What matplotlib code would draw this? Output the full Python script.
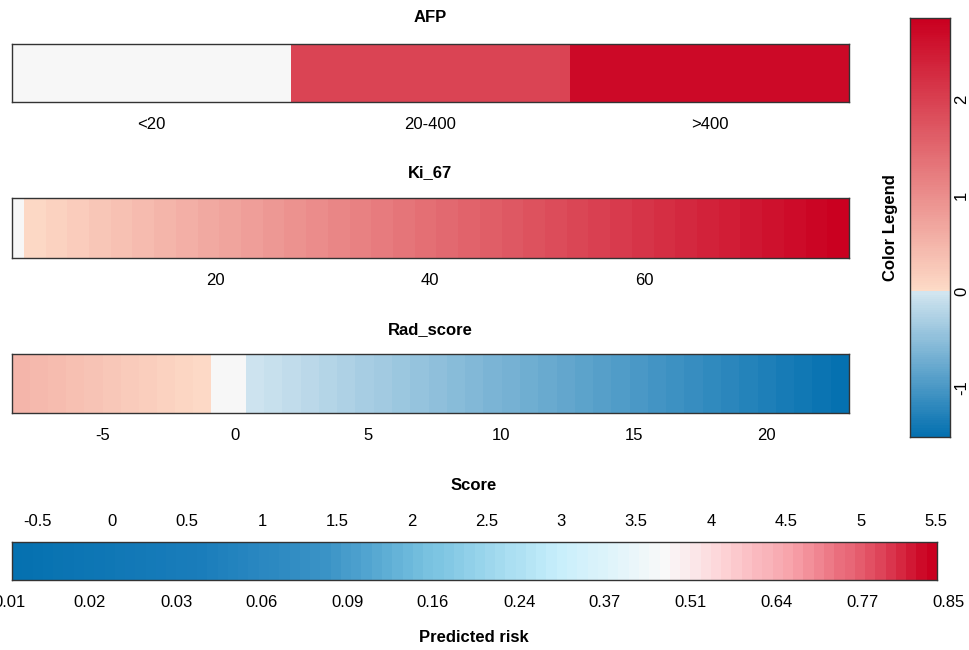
import numpy as np
import matplotlib
matplotlib.use("Agg")
import matplotlib.pyplot as plt
from matplotlib.colors import LinearSegmentedColormap, ListedColormap, Normalize

plt.rcParams['font.family'] = ['Liberation Sans', 'DejaVu Sans']
plt.rcParams['axes.unicode_minus'] = False

# contribution scale shared by the predictor bars
contrib_min, contrib_max = -1.52, 2.85
zero_col = "#F7F7F7"
pos_lo, pos_hi = "#FDDBC7", "#CA0020"
neg_lo, neg_hi = "#D1E5F0", "#0571B0"

# AFP: categorical levels and their contributions
afp_levels = ["<20", "20-400", ">400"]
afp_contrib = [0.0, 1.97, 2.72]

# Ki_67: value range, neutral band, stepped contribution range
ki_range = [1.1, 79.0]
ki_zero = [1.1, 2.2]
ki_contrib = [0.04, 2.85]
ki_steps = 38
ki_ticks = [20, 40, 60]

# Rad_score: value range, neutral band, contributions at each end
rad_range = [-8.4, 23.1]
rad_zero = [-0.9, 0.4]
rad_contrib_left = [0.50, 0.03]
rad_contrib_right = [-0.03, -1.52]
rad_steps_left = 11
rad_steps_right = 33
rad_ticks = [-5, 0, 5, 10, 15, 20]

# total score bar with predicted risk
score_range = [-0.67, 5.51]
score_steps = 90
score_ticks = [-0.5, 0, 0.5, 1, 1.5, 2, 2.5, 3, 3.5, 4, 4.5, 5, 5.5]
risk_pos = [-0.69, -0.15, 0.43, 1.0, 1.57, 2.14, 2.72, 3.29, 3.86, 4.44, 5.01, 5.59]
risk_labels = ["0.01", "0.02", "0.03", "0.06", "0.09", "0.16", "0.24",
               "0.37", "0.51", "0.64", "0.77", "0.85"]
score_stops = [(0.0, "#0571B0"), (0.2, "#1A7DBB"), (0.34, "#3B93C6"),
               (0.45, "#78C2E0"), (0.59, "#C6EEFB"), (0.71, "#F9F9F9"),
               (0.77, "#FDD5D8"), (0.85, "#F7A0A8"), (0.94, "#E04A5E"),
               (1.0, "#CA0020")]
legend_ticks = [-1, 0, 1, 2]

pos_cmap = LinearSegmentedColormap.from_list("pos", [pos_lo, pos_hi])
neg_cmap = LinearSegmentedColormap.from_list("neg", [neg_lo, neg_hi])
score_cmap = LinearSegmentedColormap.from_list("score", score_stops)


def contrib_color(v):
    if abs(v) < 1e-9:
        return zero_col
    if v > 0:
        return pos_cmap(v / contrib_max)
    return neg_cmap(v / contrib_min)


W, H = 969, 650
fig = plt.figure(figsize=(W / 100, H / 100), dpi=100)


def add_ax(x0, y0, x1, y1):
    return fig.add_axes([x0 / W, 1 - y1 / H, (x1 - x0) / W, (y1 - y0) / H])


def frame(ax):
    for s in ax.spines.values():
        s.set_linewidth(1.0)
        s.set_color("#333333")


def style_bar(ax):
    ax.set_yticks([])
    ax.tick_params(axis='x', length=0, labelsize=12, pad=11)
    frame(ax)


def draw_steps(ax, lo, hi, c0, c1, n):
    edges = np.linspace(lo, hi, n + 1)
    vals = np.linspace(c0, c1, n)
    for a, b, v in zip(edges[:-1], edges[1:], vals):
        ax.axvspan(a, b, color=contrib_color(v), lw=0)


# AFP
ax = add_ax(12, 44, 849, 102)
for i, v in enumerate(afp_contrib):
    ax.axvspan(i, i + 1, color=contrib_color(v), lw=0)
ax.set_xlim(0, len(afp_levels))
ax.set_xticks(np.arange(len(afp_levels)) + 0.5)
ax.set_xticklabels(afp_levels)
style_bar(ax)
fig.text(430 / W, 1 - 18 / H, "AFP", ha='center', va='center', fontsize=12, fontweight='bold')

# Ki_67
ax = add_ax(12, 198, 849, 258)
ax.axvspan(ki_zero[0], ki_zero[1], color=zero_col, lw=0)
draw_steps(ax, ki_zero[1], ki_range[1], ki_contrib[0], ki_contrib[1], ki_steps)
ax.set_xlim(*ki_range)
ax.set_xticks(ki_ticks)
style_bar(ax)
fig.text(430 / W, 1 - 173 / H, "Ki_67", ha='center', va='center', fontsize=12, fontweight='bold')

# Rad_score
ax = add_ax(12, 354, 849, 413)
draw_steps(ax, rad_range[0], rad_zero[0], rad_contrib_left[0], rad_contrib_left[1], rad_steps_left)
ax.axvspan(rad_zero[0], rad_zero[1], color=zero_col, lw=0)
draw_steps(ax, rad_zero[1], rad_range[1], rad_contrib_right[0], rad_contrib_right[1], rad_steps_right)
ax.set_xlim(*rad_range)
ax.set_xticks(rad_ticks)
style_bar(ax)
fig.text(430 / W, 1 - 330 / H, "Rad_score", ha='center', va='center', fontsize=12, fontweight='bold')

# Score bar
ax = add_ax(12, 542, 937, 580)
edges = np.linspace(score_range[0], score_range[1], score_steps + 1)
cols = score_cmap(np.linspace(0, 1, score_steps))
for a, b, c in zip(edges[:-1], edges[1:], cols):
    ax.axvspan(a, b, color=c, lw=0)
ax.set_xlim(*score_range)
ax.set_yticks([])
ax.xaxis.tick_top()
ax.set_xticks(score_ticks)
ax.set_xticklabels([f"{t:g}" for t in score_ticks])
ax.tick_params(axis='x', length=0, labelsize=12, pad=9)
frame(ax)
# predicted risk labels under the bar (outer ones run past the bar ends)
for p, lab in zip(risk_pos, risk_labels):
    ax.text(p, -0.6, lab, transform=ax.get_xaxis_transform(), ha='center', va='center',
            fontsize=12, clip_on=False)
fig.text(474 / W, 1 - 485 / H, "Score", ha='center', va='center', fontsize=12, fontweight='bold')
fig.text(474 / W, 1 - 637 / H, "Predicted risk", ha='center', va='center', fontsize=12, fontweight='bold')

# Color legend
cax = add_ax(910, 18, 950, 437)
n_pos, n_neg = 120, 64
legend_cols = [neg_cmap(t) for t in np.linspace(1, 0, n_neg)] + [zero_col] * 2 + \
              [pos_cmap(t) for t in np.linspace(0, 1, n_pos)]
lcmap = ListedColormap(legend_cols)
grad = np.linspace(contrib_min, contrib_max, 400).reshape(-1, 1)
vals = np.where(grad < 0, (grad - contrib_min) / (0 - contrib_min) * n_neg,
                n_neg + 2 + grad / contrib_max * (n_pos - 1))
cax.imshow(vals, cmap=lcmap, norm=Normalize(0, len(legend_cols) - 1), aspect='auto',
           origin='lower', extent=[0, 1, contrib_min, contrib_max], interpolation='nearest')
cax.set_xticks([])
cax.yaxis.tick_right()
cax.set_yticks(legend_ticks)
cax.set_yticklabels([str(t) for t in legend_ticks], rotation=90, va='center')
cax.tick_params(axis='y', length=0, labelsize=12, pad=3)
frame(cax)
fig.text(891 / W, 1 - 228 / H, "Color Legend", ha='center', va='center', rotation=90,
         fontsize=12, fontweight='bold')

fig.savefig("out.png", dpi=100)
